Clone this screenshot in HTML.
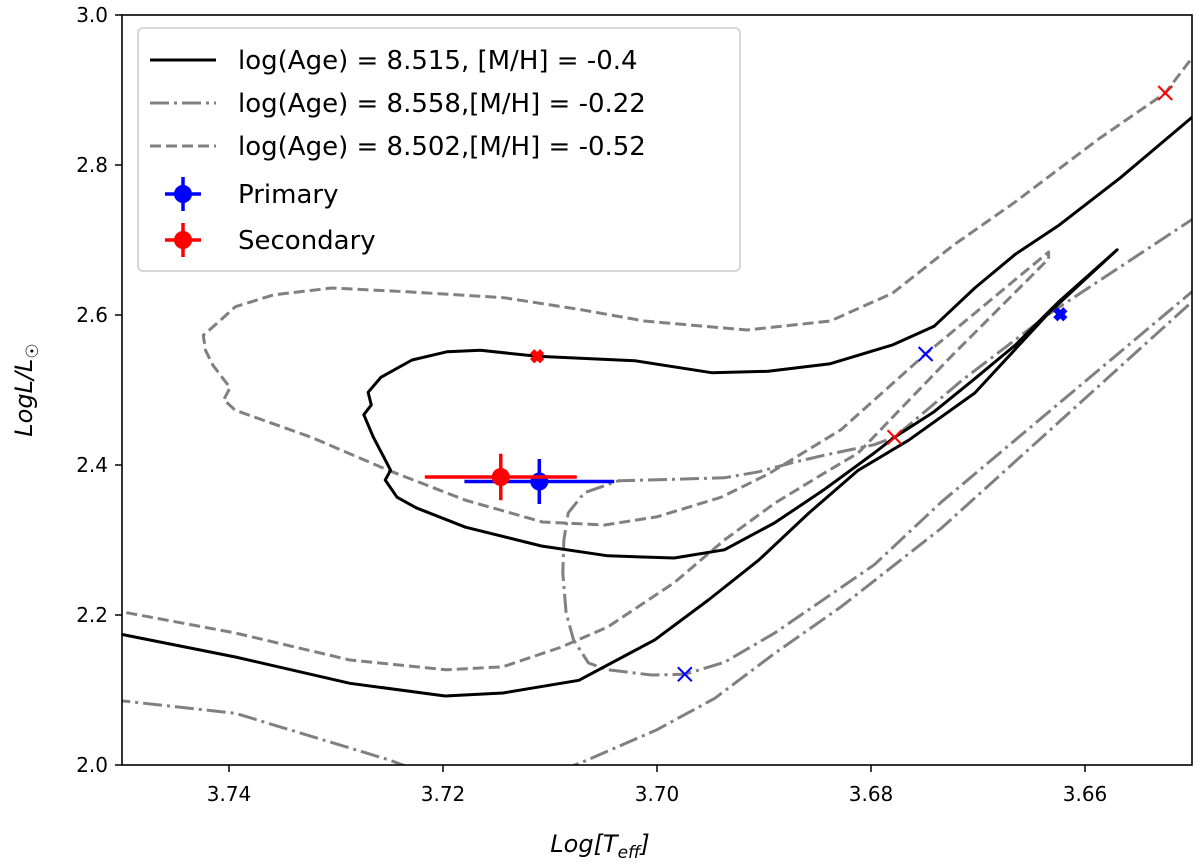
<!DOCTYPE html>
<html><head><meta charset="utf-8"><style>
body{margin:0;background:#fff}
svg{display:block;font-family:"DejaVu Sans","Liberation Sans",sans-serif}
</style></head><body>
<svg id="chart" width="1200" height="865" viewBox="0 0 1200 865" xmlns="http://www.w3.org/2000/svg">
<defs><clipPath id="clip"><rect x="122" y="15" width="1070" height="750"/></clipPath></defs>
<g id="plot" clip-path="url(#clip)"></g>
<rect x="122" y="15" width="1070" height="750" fill="none" stroke="#000" stroke-width="1.6"/>
<g id="ticks"></g>
<text x="600" y="852" font-size="24" text-anchor="middle" font-style="italic">Log[T<tspan font-size="17" dy="6">eff</tspan><tspan dy="-6">]</tspan></text>
<text transform="translate(32,390) rotate(-90)" font-size="24" text-anchor="middle" font-style="italic">LogL/L<tspan font-size="17" dy="6" font-style="normal">☉</tspan></text>
<g id="legend">
<rect x="138" y="28" width="602" height="243" rx="5" fill="#fff" fill-opacity="0.85" stroke="#ccc" stroke-width="1.5"/>
</g>
</svg>
<script>
const xTicks=[3.74,3.72,3.70,3.68,3.66];
const yTicks=[2.0,2.2,2.4,2.6,2.8,3.0];
const xTickLabels=["3.74","3.72","3.70","3.68","3.66"];
const yTickLabels=["2.0","2.2","2.4","2.6","2.8","3.0"];
const solidT=[3.7510,3.7394,3.7287,3.7198,3.7144,3.7073,3.7002,3.6952,3.6905,3.6858,3.6812,3.6765,3.6703,3.6633,3.6570,3.6625,3.6665,3.6703,3.6741,3.6778,3.6797,3.6844,3.6890,3.6937,3.6984,3.7046,3.7108,3.7179,3.7225,3.7243,3.7254,3.7249,3.7254,3.7265,3.7274,3.7267,3.7270,3.7258,3.7229,3.7196,3.7165,3.7112,3.7021,3.6949,3.6896,3.6838,3.6780,3.6741,3.6703,3.6665,3.6625,3.6567,3.6493];
const solidL=[2.177,2.144,2.109,2.092,2.096,2.113,2.167,2.220,2.273,2.336,2.393,2.433,2.496,2.604,2.687,2.617,2.560,2.515,2.471,2.437,2.416,2.367,2.323,2.287,2.276,2.279,2.292,2.317,2.343,2.357,2.380,2.393,2.407,2.437,2.467,2.480,2.497,2.517,2.540,2.551,2.553,2.545,2.539,2.523,2.525,2.535,2.560,2.585,2.636,2.681,2.719,2.783,2.872];
const dashT=[3.6493,3.6525,3.6587,3.6665,3.6723,3.6780,3.6838,3.6916,3.7012,3.7071,3.7143,3.7233,3.7304,3.7358,3.7394,3.7408,3.7424,3.7422,3.7415,3.7406,3.7399,3.7405,3.7394,3.7323,3.7251,3.7179,3.7107,3.7049,3.7000,3.6940,3.6896,3.6828,3.6749,3.6634,3.6634,3.6725,3.6812,3.6844,3.6890,3.6937,3.6984,3.7046,3.7090,3.7144,3.7197,3.7287,3.7394,3.7510];
const dashL=[2.956,2.896,2.835,2.751,2.693,2.629,2.592,2.580,2.592,2.607,2.623,2.631,2.636,2.627,2.611,2.593,2.573,2.553,2.533,2.516,2.503,2.487,2.473,2.437,2.393,2.353,2.324,2.320,2.331,2.357,2.388,2.447,2.548,2.684,2.675,2.545,2.416,2.389,2.349,2.300,2.243,2.184,2.157,2.131,2.127,2.140,2.176,2.207];
const dd1T=[3.6495,3.6631,3.6715,3.6778,3.6797,3.6844,3.6874,3.6905,3.6937,3.6984,3.7036,3.7068,3.7083,3.7087,3.7088,3.7085,3.7078,3.7064,3.7046,3.7005,3.6974,3.6937,3.6890,3.6797,3.6734,3.6495];
const dd1L=[2.732,2.604,2.513,2.437,2.427,2.413,2.403,2.391,2.383,2.381,2.379,2.363,2.336,2.300,2.256,2.203,2.167,2.136,2.127,2.120,2.121,2.137,2.176,2.267,2.351,2.637];
const dd2T=[3.7510,3.7394,3.7251,3.7230];
const dd2L=[2.087,2.069,2.007,1.996];
const dd3T=[3.7090,3.7071,3.7000,3.6946,3.6890,3.6828,3.6734,3.6495];
const dd3L=[1.993,2.003,2.047,2.089,2.149,2.211,2.316,2.624];
const starNames=["primary","secondary"];
const starT=[3.7110,3.7146];
const starL=[2.378,2.384];
const starTerr=[0.0070,0.0071];
const starLerr=[0.030,0.031];
const starColors=["#0000ff","#ff0000"];
const xMarkT=[3.6749,3.6974,3.6778,3.6525];
const xMarkL=[2.548,2.121,2.437,2.896];
const xMarkColors=["#0000ff","#0000ff","#ff0000","#ff0000"];
const bigXT=[3.7112,3.6623];
const bigXL=[2.545,2.601];
const bigXColors=["#ff0000","#0000ff"];

const NS="http://www.w3.org/2000/svg";
const X=t=>122+(3.75-t)*10700;
const Y=l=>15+(3-l)*750;
function mk(tag,attrs,parent){const e=document.createElementNS(NS,tag);for(const k in attrs)e.setAttribute(k,attrs[k]);parent.appendChild(e);return e;}
const plot=document.getElementById('plot'),ticks=document.getElementById('ticks'),legend=document.getElementById('legend');
function line(T,L,style,name){
  const d=T.map((t,i)=>(i?'L':'M')+X(t).toFixed(1)+','+Y(L[i]).toFixed(1)).join(' ');
  const p=mk('path',{d:d,fill:'none','stroke-linejoin':'round'},plot);
  
  
  Object.keys(style).forEach(k=>p.setAttribute(k,style[k]));
}
const sSolid={stroke:'#000','stroke-width':3};
const sDash={stroke:'#808080','stroke-width':3,'stroke-dasharray':'11 5'};
const sDD={stroke:'#808080','stroke-width':3,'stroke-dasharray':'19 5 3 5'};
line(dd2T,dd2L,sDD,'isochrone-8558-branch-a');
line(dd3T,dd3L,sDD,'isochrone-8558-branch-b');
line(dd1T,dd1L,sDD,'isochrone-8558-main');
line(dashT,dashL,sDash,'isochrone-8502');
line(solidT,solidL,sSolid,'isochrone-8515');
function cross(cx,cy,r,col,w,name){
  const g=mk('path',{d:`M${cx-r},${cy-r}L${cx+r},${cy+r}M${cx-r},${cy+r}L${cx+r},${cy-r}`,stroke:col,'stroke-width':w,fill:'none'},plot);
  
  
}
xMarkT.forEach((t,i)=>cross(X(t),Y(xMarkL[i]),7,xMarkColors[i],2,'model-x-marker'));
bigXT.forEach((t,i)=>cross(X(t),Y(bigXL[i]),5,bigXColors[i],6,'model-bold-x-marker'));
starT.forEach((t,i)=>{
  const cx=X(t),cy=Y(starL[i]),c=starColors[i];
  const g=mk('g',{},plot);
  
  
  mk('line',{x1:X(t+starTerr[i]),x2:X(t-starTerr[i]),y1:cy,y2:cy,stroke:c,'stroke-width':3.5},g);
  mk('line',{x1:cx,x2:cx,y1:Y(starL[i]+starLerr[i]),y2:Y(starL[i]-starLerr[i]),stroke:c,'stroke-width':3.5},g);
  mk('circle',{cx:cx,cy:cy,r:9,fill:c},g);
});
xTicks.forEach((t,i)=>{
  mk('line',{x1:X(t),x2:X(t),y1:765,y2:772,stroke:'#000','stroke-width':1.5},ticks);
  const tx=mk('text',{x:X(t),y:801,'font-size':20,'text-anchor':'middle'},ticks);
  tx.textContent=xTickLabels[i];
  
  
});
yTicks.forEach((l,i)=>{
  mk('line',{x1:115,x2:122,y1:Y(l),y2:Y(l),stroke:'#000','stroke-width':1.5},ticks);
  const tx=mk('text',{x:108,y:Y(l)+7,'font-size':20,'text-anchor':'end'},ticks);
  tx.textContent=yTickLabels[i];
  
  
});
const legLabels=["log(Age) = 8.515, [M/H] = -0.4","log(Age) = 8.558,[M/H] = -0.22","log(Age) = 8.502,[M/H] = -0.52","Primary","Secondary"];
const legY=[60,103,146,194,240];
const legStyles=[sSolid,sDD,sDash];
legLabels.forEach((lab,i)=>{
  const g=mk('g',{},legend);
  
  
  const y=legY[i];
  if(i<3){const l=mk('line',{x1:150,x2:216,y1:y,y2:y},g);Object.keys(legStyles[i]).forEach(k=>l.setAttribute(k,legStyles[i][k]));}
  else{const c=starColors[i-3];
    mk('line',{x1:165,x2:201,y1:y,y2:y,stroke:c,'stroke-width':3.5},g);
    mk('line',{x1:183,x2:183,y1:y-17,y2:y+17,stroke:c,'stroke-width':3.5},g);
    mk('circle',{cx:183,cy:y,r:9,fill:c},g);}
  const tx=mk('text',{x:238,y:y+9,'font-size':26},g);
  tx.textContent=lab;
});
</script>
</body></html>
